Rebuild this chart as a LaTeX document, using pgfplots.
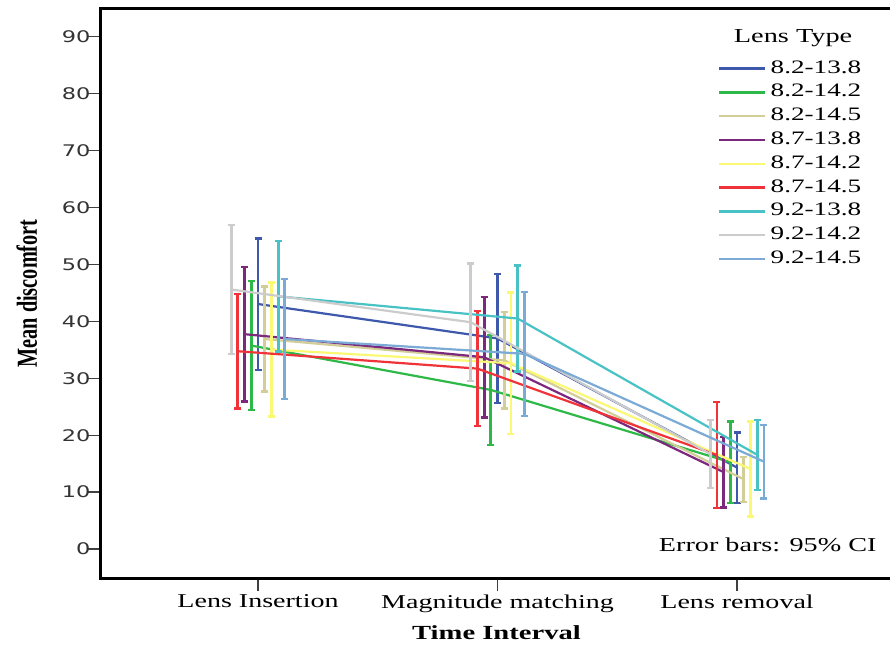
\documentclass[border=0pt]{standalone}
\usepackage{fontspec}
\usepackage{pgfplots}
\pgfplotsset{compat=1.18}
\setmainfont{Liberation Serif}
\newfontfamily\widefont[FakeStretch=1.43]{Liberation Serif}
\newfontfamily\tickfont[FakeStretch=1.4]{DejaVu Sans}
\newfontfamily\ylabfont[FakeStretch=0.7]{Liberation Serif}

\definecolor{cBlue}{HTML}{3E58AC}
\definecolor{cGreen}{HTML}{2EB848}
\definecolor{cKhaki}{HTML}{D3CE97}
\definecolor{cPurple}{HTML}{7C287D}
\definecolor{cYellow}{HTML}{FBF873}
\definecolor{cRed}{HTML}{EF3338}
\definecolor{cTeal}{HTML}{48C2C5}
\definecolor{cGray}{HTML}{CCCCCC}
\definecolor{cLtBlue}{HTML}{7AAAD5}

\pgfplotsset{
  ser/.style={color=#1, line width=2.2pt, mark=none,
    error bars/.cd, y dir=both, y explicit, error mark=|,
    error bar style={color=#1, line width=2.8pt},
    error mark options={color=#1, line width=2.4pt, mark size=3.5pt}},
}

\begin{document}
\begin{tikzpicture}
\useasboundingbox (0,0) rectangle (890pt,645pt);
\begin{axis}[
  at={(100pt,67pt)}, anchor=south west,
  scale only axis, width=793pt, height=569pt,
  xmin=-0.6597, xmax=2.651, ymin=-5.1, ymax=94.9,
  axis line style={line width=3pt, black, line cap=rect},
  xtick={0,1,2},
  xticklabels={Lens Insertion, Magnitude matching, Lens removal},
  ytick={0,10,...,90},
  tick align=outside, tick pos=left,
  major tick length=13pt,
  tick style={line width=1.2pt, black!75},
  /pgf/number format/assume math mode=true,
  yticklabel style={font=\tickfont\fontsize{16}{16}\selectfont, text=black!80, xshift=7pt},
  xticklabel style={font=\widefont\fontsize{19.6}{20}\selectfont},
  xlabel={Time Interval},
  xlabel shift=6pt,
  xlabel style={font=\widefont\bfseries\fontsize{20}{20}\selectfont},
  ylabel={Mean discomfort},
  ylabel shift=18pt,
  ylabel style={font=\ylabfont\bfseries\fontsize{29}{29}\selectfont},
  legend style={at={(rel axis cs:0.7793,0.9105)}, anchor=north west,
    draw=none, fill=none, inner sep=0pt, row sep=6.8pt,
    font=\widefont\fontsize{19}{19}\selectfont,
    nodes={inner ysep=2pt, inner xsep=4pt, text height=11pt, text depth=2pt}},
  legend cell align=left,
  legend image code/.code={\draw[line width=2.5pt] (0pt,0pt) -- (46pt,0pt);},
]
% 8.2-13.8
\addplot[ser=cBlue] coordinates {(0,43.05) +- (0,11.55) (1,37.0) +- (0,11.3) (2,14.3) +- (0,6.2)};
% 8.2-14.2
\addplot[ser=cGreen] coordinates {(-0.028,35.75) +- (0,11.35) (0.972,27.95) +- (0,9.65) (1.972,15.25) +- (0,7.15)};
% 8.2-14.5
\addplot[ser=cKhaki] coordinates {(0.028,36.9) +- (0,9.25) (1.028,33.15) +- (0,8.45) (2.028,12.25) +- (0,3.95)};
% 8.7-13.8
\addplot[ser=cPurple] coordinates {(-0.056,37.75) +- (0,11.85) (0.944,33.7) +- (0,10.6) (1.944,13.5) +- (0,6.2)};
% 8.7-14.2
\addplot[ser=cYellow] coordinates {(0.056,35.05) +- (0,11.75) (1.056,32.65) +- (0,12.45) (2.056,14.05) +- (0,8.35)};
% 8.7-14.5
\addplot[ser=cRed] coordinates {(-0.084,34.75) +- (0,10.05) (0.916,31.7) +- (0,10.1) (1.916,16.5) +- (0,9.35)};
% 9.2-13.8
\addplot[ser=cTeal] coordinates {(0.084,44.4) +- (0,9.7) (1.084,40.5) +- (0,9.3) (2.084,16.55) +- (0,6.15)};
% 9.2-14.2
\addplot[ser=cGray] coordinates {(-0.112,45.6) +- (0,11.3) (0.888,39.85) +- (0,10.35) (1.888,16.7) +- (0,6.0)};
% 9.2-14.5
\addplot[ser=cLtBlue] coordinates {(0.112,36.9) +- (0,10.5) (1.112,34.3) +- (0,10.9) (2.112,15.35) +- (0,6.45)};
\legend{8.2-13.8, 8.2-14.2, 8.2-14.5, 8.7-13.8, 8.7-14.2, 8.7-14.5, 9.2-13.8, 9.2-14.2, 9.2-14.5}
\node[font=\widefont\fontsize{19.8}{20}\selectfont] at (rel axis cs:0.874,0.949) {Lens Type};
\node[font=\widefont\fontsize{19.7}{20}\selectfont] at (rel axis cs:0.842,0.058) {Error bars: 95\% CI};
\end{axis}
\end{tikzpicture}
\end{document}
